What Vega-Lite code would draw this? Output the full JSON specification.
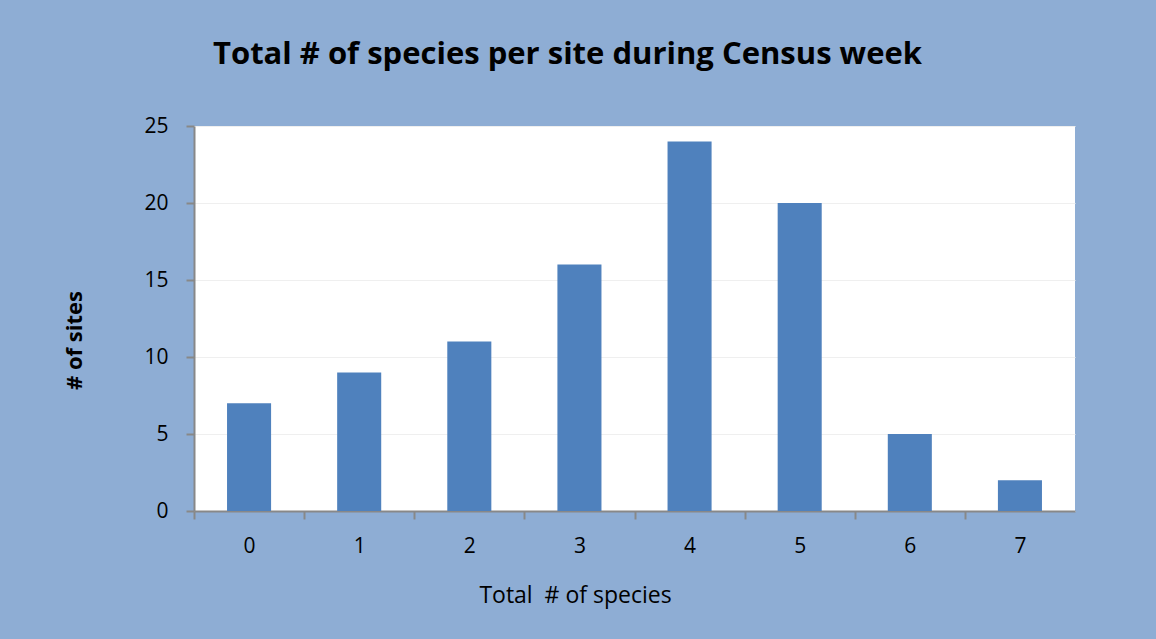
{
  "$schema": "https://vega.github.io/schema/vega-lite/v6.json",
  "autosize": {"type": "none"},
  "width": 881,
  "height": 385,
  "padding": {"left": 194, "top": 126, "right": 81, "bottom": 128},
  "background": "#8EADD4",
  "title": {
    "text": "Total # of species per site during Census week",
    "anchor": "start",
    "frame": "group",
    "dx": 19,
    "offset": 44,
    "font": "Open Sans",
    "fontSize": 31,
    "fontWeight": "bold",
    "color": "#000000"
  },
  "data": {
    "values": [
      {"species": "0", "sites": 7},
      {"species": "1", "sites": 9},
      {"species": "2", "sites": 11},
      {"species": "3", "sites": 16},
      {"species": "4", "sites": 24},
      {"species": "5", "sites": 20},
      {"species": "6", "sites": 5},
      {"species": "7", "sites": 2}
    ]
  },
  "mark": {"type": "bar", "color": "#4F81BD"},
  "encoding": {
    "x": {
      "field": "species",
      "type": "ordinal",
      "sort": null,
      "scale": {"paddingInner": 0.6, "paddingOuter": 0.3},
      "axis": {
        "title": "Total\u00a0 # of species",
        "titleFont": "Open Sans",
        "titleFontSize": 23,
        "titleFontWeight": "normal",
        "titleColor": "#000000",
        "titleX": 381,
        "titlePadding": 28,
        "labelAngle": 0,
        "labelFont": "Open Sans",
        "labelFontSize": 21,
        "labelColor": "#000000",
        "labelPadding": 16,
        "tickOffset": -55,
        "labelOffset": 55,
        "tickSize": 8,
        "tickColor": "#888888",
        "domainColor": "#888888",
        "domainWidth": 2,
        "tickWidth": 2
      }
    },
    "y": {
      "field": "sites",
      "type": "quantitative",
      "scale": {"domain": [0, 25]},
      "axis": {
        "title": "# of sites",
        "values": [0, 5, 10, 15, 20, 25],
        "titleFont": "Open Sans",
        "titleFontSize": 22,
        "titleFontWeight": "bold",
        "titleColor": "#000000",
        "titleY": 214,
        "titlePadding": 57,
        "labelFont": "Open Sans",
        "labelFontSize": 21,
        "labelColor": "#000000",
        "labelPadding": 18,
        "tickSize": 8,
        "tickColor": "#888888",
        "tickWidth": 2,
        "domainColor": "#888888",
        "domainWidth": 2,
        "grid": true,
        "gridColor": "#EFEFEF",
        "gridWidth": 1
      }
    }
  },
  "config": {
    "view": {"fill": "#FFFFFF", "stroke": null}
  }
}
